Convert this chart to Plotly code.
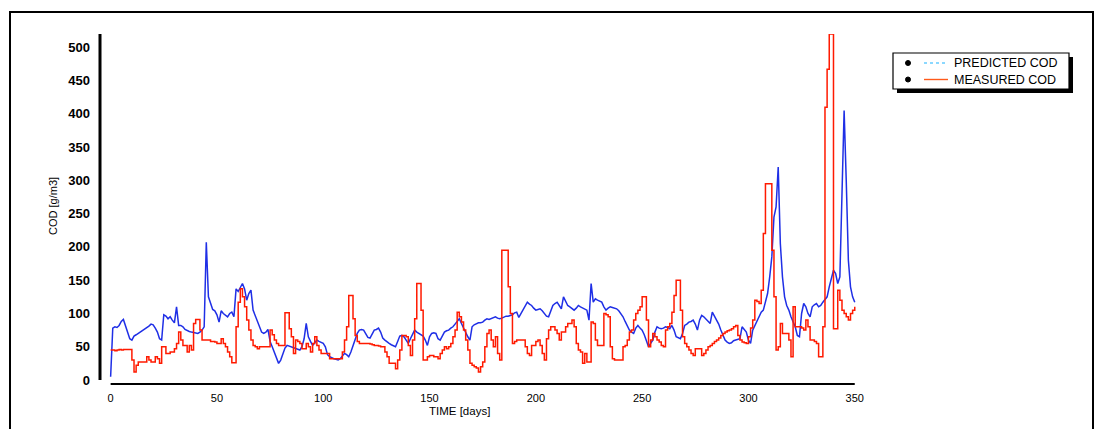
import plotly.graph_objects as go

# ---------------- data ----------------
predicted_cod = [
    5, 78, 80, 79, 82, 88, 91, 82, 72, 62,
    60, 66, 68, 70, 72, 74, 76, 79, 81, 84,
    83, 78, 72, 62, 60, 98, 96, 92, 95, 90,
    86, 110, 82, 82, 80, 76, 74, 73, 72, 71,
    70, 70, 72, 75, 80, 207, 125, 117, 106, 104,
    98, 87, 104, 100, 97, 95, 100, 102, 95, 137,
    133, 140, 145, 137, 120, 130, 135, 105, 96, 87,
    78, 72, 70, 72, 76, 58, 50, 42, 35, 25,
    30, 40, 48, 52, 51, 50, 49, 47, 46, 45,
    50, 62, 85, 65, 58, 52, 56, 60, 58, 57,
    55, 50, 38, 35, 33, 32, 31, 30, 32, 36,
    40, 38, 35, 42, 52, 62, 70, 75, 76, 75,
    70, 64, 63, 70, 75, 76, 78, 72, 63, 60,
    57, 55, 53, 52, 50, 58, 66, 67, 65, 60,
    55, 62, 70, 75, 72, 70, 68, 66, 60, 52,
    65, 70, 71, 70, 62, 60, 66, 72, 74, 75,
    78, 80, 84, 88, 92, 85, 78, 72, 65, 60,
    80, 83, 85, 86, 86, 87, 90, 92, 91, 92,
    94, 95, 93, 92, 93, 95, 96, 96, 97, 98,
    101, 102, 94, 100, 105, 112, 117, 114, 112, 108,
    105, 106, 107, 104, 100, 96, 95, 104, 112, 115,
    117, 112, 107, 125, 118, 112, 110, 108, 105, 108,
    112, 110, 108, 107, 105, 90, 145, 117, 122, 120,
    118, 117, 110, 105, 108, 110, 109, 108, 107, 104,
    100, 95, 88, 80, 75, 72, 70, 78, 82, 78,
    75, 68, 60, 50, 55, 60, 72, 80, 78, 77,
    78, 80, 79, 77, 82, 75, 65, 63, 62, 70,
    82, 84, 87, 88, 90, 84, 75, 90, 97, 95,
    92, 88, 85, 102, 96, 92, 84, 75, 68, 60,
    57, 55, 56, 59, 60, 61, 62, 80, 76, 72,
    60, 55, 75, 82, 90, 96, 102, 105, 118, 130,
    155, 185, 245, 260, 320, 205, 155, 125, 112, 105,
    95, 88, 80, 67, 65, 100, 115, 110, 100, 95,
    110, 113, 115, 110, 112, 117, 122, 125, 140, 155,
    165, 160, 145, 155, 295, 405, 300, 180, 140, 125,
    117,
]

measured_cod = [
    45, 45, 44, 45, 46, 45, 46, 46, 46, 46,
    30, 12, 22, 27, 27, 27, 27, 35, 30, 27,
    27, 35, 32, 25, 50, 50, 40, 40, 42, 42,
    47, 55, 72, 60, 52, 52, 42, 52, 45, 85,
    91, 91, 75, 60, 60, 60, 60, 58, 58, 57,
    55, 55, 62, 55, 50, 42, 35, 26, 26, 80,
    117, 137, 125, 110, 90, 75, 60, 52, 50, 47,
    50, 50, 50, 50, 50, 75, 68, 60, 55, 52,
    52, 52, 101, 101, 77, 65, 40, 60, 58, 55,
    47, 47, 55, 50, 42, 55, 65, 52, 45, 40,
    40, 40, 40, 32, 32, 32, 32, 32, 32, 42,
    60, 80, 127, 127, 92, 67, 58, 55, 55, 55,
    55, 55, 54, 53, 52, 52, 51, 50, 50, 42,
    35, 25, 25, 25, 17, 30, 45, 67, 67, 65,
    52, 37, 60, 92, 145, 145, 105, 30, 30, 35,
    37, 37, 35, 35, 32, 40, 45, 50, 47, 50,
    55, 65, 75, 102, 95, 87, 75, 60, 45, 25,
    22, 20, 18, 12, 20, 27, 50, 70, 75, 60,
    50, 65, 40, 30, 195, 195, 195, 140, 100, 55,
    58, 60, 60, 60, 60, 50, 40, 37, 52, 52,
    58, 60, 52, 40, 30, 62, 75, 80, 80, 75,
    70, 60, 72, 72, 80, 85, 85, 90, 80, 55,
    45, 42, 25, 40, 27, 27, 87, 85, 60, 52,
    52, 52, 100, 98, 95, 50, 32, 30, 30, 30,
    30, 50, 52, 60, 72, 75, 90, 100, 105, 110,
    125, 125, 90, 50, 60, 70, 65, 60, 57, 52,
    50, 75, 80, 85, 102, 127, 150, 150, 105, 65,
    55, 50, 45, 40, 37, 47, 47, 47, 37, 40,
    45, 50, 52, 55, 58, 60, 63, 67, 70, 72,
    74, 75, 77, 80, 82, 67, 60, 57, 56, 55,
    65, 78, 90, 120, 118, 115, 135, 220, 295, 295,
    295, 195, 125, 45, 50, 85, 70, 70, 70, 60,
    35, 110, 80, 80, 80, 78, 75, 90, 80, 60,
    60, 58, 55, 35, 35, 80, 410, 467, 520, 520,
    77, 77, 135, 120, 105, 100, 95, 90, 100, 105,
    110,
]

days_pred = list(range(len(predicted_cod)))
days_meas = list(range(len(measured_cod)))

x_ticks = [0, 50, 100, 150, 200, 250, 300, 350]
y_ticks = [0, 50, 100, 150, 200, 250, 300, 350, 400, 450, 500]

series_names = ["PREDICTED COD", "MEASURED COD"]
x_title = "TIME [days]"
y_title = "COD [g/m3]"

# ---------------- layout geometry ----------------
W, H = 1100, 429
L, R, T, B = 100, 241, 34, 45
PW, PH = W - L - R, H - T - B
X_RANGE = [-5, 352]
Y_RANGE = [-6, 520]

FONT = "Liberation Sans, Arial, sans-serif"


def px(x):
    return (x - L) / PW


def py(y):
    return (H - B - y) / PH


def dx(v):
    return (v - X_RANGE[0]) / (X_RANGE[1] - X_RANGE[0])


def dy(v):
    return (v - Y_RANGE[0]) / (Y_RANGE[1] - Y_RANGE[0])


fig = go.Figure()
fig.add_trace(go.Scatter(
    x=days_pred, y=predicted_cod, mode="lines", name=series_names[0],
    line=dict(color="#1f2fe6", width=1.5), showlegend=False,
))
fig.add_trace(go.Scatter(
    x=days_meas, y=measured_cod, mode="lines", name=series_names[1],
    line=dict(color="#ff1a00", width=1.5, shape="hv"), showlegend=False,
))

shapes = []
# outer frame
shapes.append(dict(type="rect", xref="paper", yref="paper",
                   x0=px(10), x1=px(1093), y0=py(440), y1=py(12),
                   line=dict(color="black", width=2), fillcolor="rgba(0,0,0,0)",
                   layer="below"))
# y axis line (offset from x axis)
shapes.append(dict(type="line", xref="paper", yref="paper",
                   x0=0, x1=0, y0=dy(0), y1=1,
                   line=dict(color="black", width=3)))
# x axis line
shapes.append(dict(type="line", xref="paper", yref="paper",
                   x0=dx(0), x1=dx(350), y0=0, y1=0,
                   line=dict(color="black", width=2)))
# legend shadow and box
shapes.append(dict(type="rect", xref="paper", yref="paper",
                   x0=px(897), x1=px(1073), y0=py(93), y1=py(57),
                   line=dict(width=0), fillcolor="black"))
shapes.append(dict(type="rect", xref="paper", yref="paper",
                   x0=px(893), x1=px(1069), y0=py(89), y1=py(53),
                   line=dict(color="black", width=1.2), fillcolor="white"))
# legend markers
for yy in (63, 79.5):
    shapes.append(dict(type="circle", xref="paper", yref="paper",
                       x0=px(905.5), x1=px(910.5), y0=py(yy + 2.5), y1=py(yy - 2.5),
                       line=dict(color="black", width=1), fillcolor="black"))
shapes.append(dict(type="line", xref="paper", yref="paper",
                   x0=px(924), x1=px(948), y0=py(63), y1=py(63),
                   line=dict(color="#66ccff", width=1.4, dash="dot")))
shapes.append(dict(type="line", xref="paper", yref="paper",
                   x0=px(924), x1=px(948), y0=py(79.5), y1=py(79.5),
                   line=dict(color="#ff5a1a", width=1.4)))

annotations = [
    dict(text=series_names[0], xref="paper", yref="paper", x=px(952), y=py(63),
         xanchor="left", yanchor="middle", showarrow=False,
         font=dict(family=FONT, size=12.5, color="black")),
    dict(text=series_names[1], xref="paper", yref="paper", x=px(952), y=py(79.5),
         xanchor="left", yanchor="middle", showarrow=False,
         font=dict(family=FONT, size=12.5, color="black")),
    dict(text=y_title, xref="paper", yref="paper", x=px(53), y=py(206),
         xanchor="center", yanchor="middle", textangle=-90, showarrow=False,
         font=dict(family=FONT, size=11, color="black")),
    dict(text=x_title, xref="paper", yref="paper", x=px(459), y=py(411),
         xanchor="center", yanchor="middle", showarrow=False,
         font=dict(family=FONT, size=11.5, color="black")),
]

fig.update_layout(
    width=W, height=H,
    margin=dict(l=L, r=R, t=T, b=B, pad=0),
    paper_bgcolor="white", plot_bgcolor="white",
    shapes=shapes, annotations=annotations,
    showlegend=False,
    xaxis=dict(range=X_RANGE, tickvals=x_ticks, ticktext=[str(v) for v in x_ticks],
               showgrid=False, zeroline=False, showline=False,
               ticks="", ticklabelstandoff=6,
               tickfont=dict(family=FONT, size=11, color="black")),
    yaxis=dict(range=Y_RANGE, tickvals=y_ticks, ticktext=[str(v) for v in y_ticks],
               showgrid=False, zeroline=False, showline=False,
               ticks="", ticklabelstandoff=9,
               tickfont=dict(family=FONT, size=13, color="black", weight="bold")),
)

fig.write_html("out.html")
